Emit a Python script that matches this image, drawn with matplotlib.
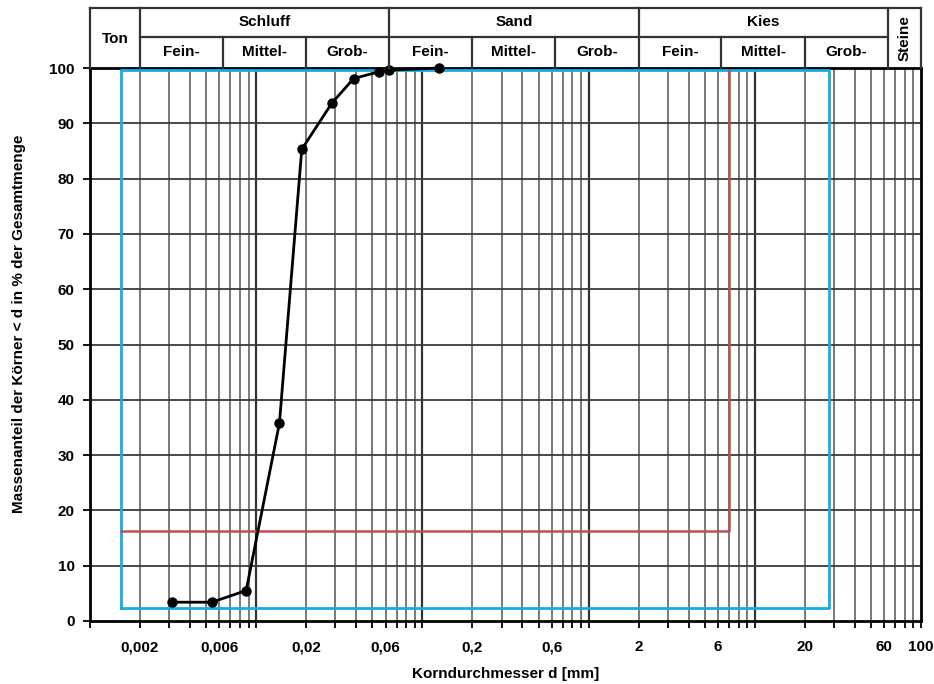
import numpy as np
import matplotlib
matplotlib.use("Agg")
import matplotlib.pyplot as plt
from matplotlib.ticker import FixedLocator, FixedFormatter, NullLocator

plt.rcParams['font.family'] = ['Liberation Sans', 'DejaVu Sans']
plt.rcParams['font.weight'] = 'bold'

# ---- data ----
grain_size_mm = [0.0031, 0.0054, 0.0087, 0.0138, 0.0188, 0.0286, 0.0386, 0.0546, 0.063, 0.125]
passing_pct = [3.4, 3.4, 5.5, 35.8, 85.3, 93.7, 98.1, 99.3, 99.6, 100.0]

blue_x = [0.00153, 28.0]
blue_y = [2.3, 99.7]
red_x = [0.00153, 7.0]
red_y = [16.3, 99.7]

tick_values = [0.002, 0.006, 0.02, 0.06, 0.2, 0.6, 2, 6, 20, 60, 100]
tick_labels = ['0,002', '0,006', '0,02', '0,06', '0,2', '0,6', '2', '6', '20', '60', '100']

main_groups = ['Ton', 'Schluff', 'Sand', 'Kies', 'Steine']
main_bounds = [0.001, 0.002, 0.063, 2.0, 63.0, 100.0]
sub_labels = ['Fein-', 'Mittel-', 'Grob-']
sub_bounds = [0.002, 0.0063, 0.02, 0.063, 0.2, 0.63, 2.0, 6.3, 20.0, 63.0]

FS = 11

# ---- figure ----
W, H = 934, 684
fig = plt.figure(figsize=(W / 100, H / 100), dpi=100)
ax = fig.add_axes([90 / W, 1 - 621 / H, (921 - 90) / W, (621 - 68) / H])
hx = fig.add_axes([90 / W, 1 - 68 / H, (921 - 90) / W, (68 - 8) / H], sharex=ax)

ax.set_xscale('log')
ax.set_xlim(0.001, 100)
ax.set_ylim(0, 100)

# grid positions
grid_pos = []
for e in range(-3, 2):
    for m in range(1, 10):
        v = m * 10.0 ** e
        if 0.001 < v < 100:
            grid_pos.append(v)
for v in grid_pos:
    dec = abs(np.log10(v) - round(np.log10(v))) < 1e-9
    ax.axvline(v, color='#333333' if dec else '#6e6e6e', lw=1.6 if dec else 1.3, zorder=1)
for yv in range(10, 100, 10):
    ax.axhline(yv, color='#3a3a3a', lw=1.3, zorder=1)

all_ticks = [0.001] + grid_pos + [100]
lab_map = {round(v, 6): l for v, l in zip(tick_values, tick_labels)}
ax.xaxis.set_major_locator(FixedLocator(all_ticks))
ax.xaxis.set_major_formatter(FixedFormatter([lab_map.get(round(v, 6), '') for v in all_ticks]))
ax.xaxis.set_minor_locator(NullLocator())
ax.set_yticks(range(0, 101, 10))
ax.tick_params(axis='both', direction='out', length=5, width=1.3, color='black', labelsize=FS)
ax.tick_params(axis='x', pad=9)
ax.tick_params(axis='y', pad=6)
for lab in ax.get_xticklabels() + ax.get_yticklabels():
    lab.set_fontweight('bold')
for s in ax.spines.values():
    s.set_linewidth(2.0)
    s.set_color('black')

# blue and red frames
ax.plot([blue_x[0], blue_x[1], blue_x[1], blue_x[0], blue_x[0]],
        [blue_y[0], blue_y[0], blue_y[1], blue_y[1], blue_y[0]],
        color='#12aee6', lw=2.0, zorder=3)
ax.plot([red_x[0], red_x[1], red_x[1]], [red_y[0], red_y[0], red_y[1]],
        color='#c0504d', lw=1.8, zorder=3)

# curve
ax.plot(grain_size_mm, passing_pct, color='black', lw=2.0, marker='o', ms=6.5,
        zorder=5, clip_on=False)

ax.set_xlabel('Korndurchmesser d [mm]', fontsize=FS, fontweight='bold')
ax.xaxis.set_label_coords(0.5, -0.083)
ax.set_ylabel('Massenanteil der Körner < d in % der Gesamtmenge', fontsize=FS,
              fontweight='bold')
ax.yaxis.set_label_coords(-0.077, 0.537)

# ---- header ----
hx.set_ylim(0, 1)
hx.axis('off')
lc = '#333333'
lw = 1.6
mid = 0.517
hx.plot([0.001, 100], [1, 1], color=lc, lw=lw, clip_on=False)
hx.plot([0.001, 0.001], [0, 1], color=lc, lw=lw, clip_on=False)
hx.plot([100, 100], [0, 1], color=lc, lw=lw, clip_on=False)
hx.plot([0.002, 63], [mid, mid], color=lc, lw=lw, clip_on=False)
for b in main_bounds[1:-1]:
    hx.plot([b, b], [0, 1], color=lc, lw=lw, clip_on=False)
for b in sub_bounds[1:-1]:
    if b not in main_bounds:
        hx.plot([b, b], [0, mid], color=lc, lw=lw, clip_on=False)

def gmid(a, b):
    return np.sqrt(a * b)

# group labels
hx.text(gmid(main_bounds[0], main_bounds[1]), 0.48, main_groups[0], ha='center', va='center',
        fontsize=FS, fontweight='bold')
for i in range(1, 4):
    hx.text(gmid(main_bounds[i], main_bounds[i + 1]), 0.77, main_groups[i], ha='center',
            va='center', fontsize=FS, fontweight='bold')
hx.text(gmid(main_bounds[4], main_bounds[5]), 0.5, main_groups[4], ha='center', va='center',
        rotation=90, fontsize=FS, fontweight='bold')
for i in range(9):
    hx.text(gmid(sub_bounds[i], sub_bounds[i + 1]), 0.27, sub_labels[i % 3], ha='center',
            va='center', fontsize=FS, fontweight='bold')

fig.savefig('out.png', dpi=100)
